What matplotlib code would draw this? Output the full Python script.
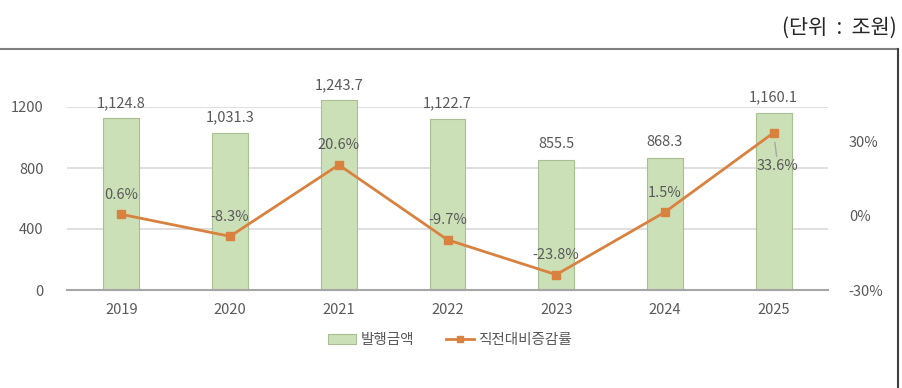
import matplotlib
matplotlib.use("Agg")
import matplotlib.pyplot as plt
from matplotlib.lines import Line2D

plt.rcParams['font.family'] = ['Noto Sans CJK KR', 'DejaVu Sans']

years = ['2019', '2020', '2021', '2022', '2023', '2024', '2025']
amounts = [1124.8, 1031.3, 1243.7, 1122.7, 855.5, 868.3, 1160.1]
rates = [0.6, -8.3, 20.6, -9.7, -23.8, 1.5, 33.6]
left_ticks = [0, 400, 800, 1200]
right_ticks = [-30, 0, 30]
bar_name = '발행금액'
line_name = '직전대비증감률'
unit_text = '(단위  :  조원)'

W, H = 902, 388
fig = plt.figure(figsize=(W / 100, H / 100), dpi=100)
txt = '#595959'
bar_c = '#CCE0B8'
bar_e = '#A8BF94'
line_c = '#D9823F'

ax = fig.add_axes([67 / W, (H - 290) / H, (828 - 67) / W, (290 - 107) / H])
x = list(range(len(years)))
bars = ax.bar(x, amounts, width=0.33, color=bar_c, edgecolor=bar_e, linewidth=0.8, zorder=2)
for b in bars:
    b.set_clip_on(False)
ax.set_xlim(-0.5, len(years) - 0.5)
ax.set_ylim(0, 1200)
ax.set_yticks(left_ticks)
ax.set_xticks(x)
ax.set_xticklabels(years)
ax.yaxis.grid(True, color='#D9D9D9', linewidth=1.2, zorder=0)
for s in ['top', 'right', 'left']:
    ax.spines[s].set_visible(False)
ax.spines['bottom'].set_color('#A6A6A6')
ax.spines['bottom'].set_linewidth(1.5)
ax.tick_params(axis='both', length=0, colors=txt, labelsize=10.5)
ax.tick_params(axis='y', pad=17)
ax.tick_params(axis='x', pad=9)
ax.set_axisbelow(True)

for xi, v in zip(x, amounts):
    ax.annotate(f'{v:,.1f}', (xi, v), xytext=(0, 6), textcoords='offset points',
                ha='center', va='bottom', fontsize=10.5, color=txt, annotation_clip=False)

ax2 = ax.twinx()
ax2.plot(x, rates, color=line_c, linewidth=2.0, marker='s', markersize=5.5, zorder=3)
ax2.set_ylim(-30, 44)
ax2.set_yticks(right_ticks)
ax2.set_yticklabels([f'{t}%' for t in right_ticks])
for s in ax2.spines.values():
    s.set_visible(False)
ax2.tick_params(axis='y', length=0, colors=txt, labelsize=10.5, pad=15)

for xi, r in zip(x, rates):
    if xi == len(x) - 1:
        ax2.annotate(f'{r}%', (xi, r), xytext=(3, -24), textcoords='offset points',
                     ha='center', va='center', fontsize=10.5, color=txt,
                     arrowprops=dict(arrowstyle='-', color='#A6A6A6', lw=1,
                                     shrinkA=0, shrinkB=7))
    else:
        ax2.annotate(f'{r}%', (xi, r), xytext=(0, 14), textcoords='offset points',
                     ha='center', va='center', fontsize=10.5, color=txt)

handles = [plt.Rectangle((0, 0), 1, 1, facecolor=bar_c, edgecolor=bar_e, linewidth=0.8),
           Line2D([0], [0], color=line_c, linewidth=2.0, marker='s', markersize=5)]
fig.legend(handles, [bar_name, line_name], loc='center', bbox_to_anchor=(450 / W, (H - 340) / H),
           ncol=2, frameon=False, fontsize=10.5, labelcolor=txt, handlelength=1.9,
           handletextpad=0.3, columnspacing=2.2)

fig.text(897 / W, (H - 28) / H, unit_text, ha='right', va='center', fontsize=15, color='#262626')

fig.add_artist(Line2D([0, 898 / W], [(H - 49) / H] * 2, color='#7F7F7F', linewidth=1.5,
                      transform=fig.transFigure))
fig.add_artist(Line2D([898 / W] * 2, [0, (H - 49) / H], color='#404040', linewidth=1.5,
                      transform=fig.transFigure))

fig.savefig('out.png', dpi=100)
